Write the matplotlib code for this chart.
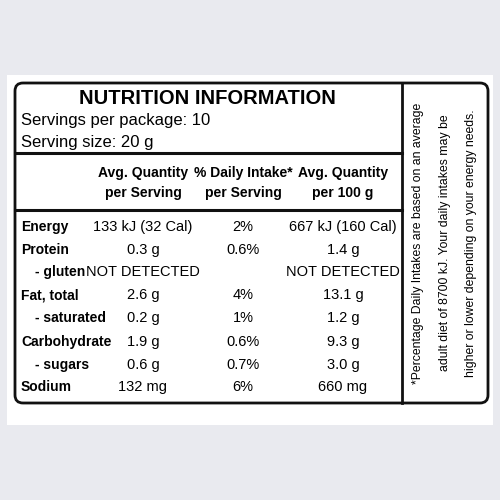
import matplotlib
matplotlib.use("Agg")
import matplotlib.pyplot as plt
from matplotlib.patches import FancyBboxPatch, Rectangle

title = "NUTRITION INFORMATION"
servings = "Servings per package: 10"
size = "Serving size: 20 g"
headers = ["Avg. Quantity\nper Serving", "% Daily Intake*\nper Serving", "Avg. Quantity\nper 100 g"]
nutrients = ["Energy", "Protein", "- gluten", "Fat, total", "- saturated", "Carbohydrate", "- sugars", "Sodium"]
per_serving = ["133 kJ (32 Cal)", "0.3 g", "NOT DETECTED", "2.6 g", "0.2 g", "1.9 g", "0.6 g", "132 mg"]
daily = ["2%", "0.6%", "", "4%", "1%", "0.6%", "0.7%", "6%"]
per_100 = ["667 kJ (160 Cal)", "1.4 g", "NOT DETECTED", "13.1 g", "1.2 g", "9.3 g", "3.0 g", "660 mg"]
footnote = ["*Percentage Daily Intakes are based on an average",
            "adult diet of 8700 kJ. Your daily intakes may be",
            "higher or lower depending on your energy needs."]

NAR = ["Liberation Sans", "DejaVu Sans"]
fig = plt.figure(figsize=(5, 5), dpi=100)
fig.patch.set_facecolor("#e9eaef")
ax = fig.add_axes([0, 0, 1, 1])
ax.set_xlim(0, 500); ax.set_ylim(500, 0); ax.axis("off")

ax.add_patch(Rectangle((7, 75), 486, 350, facecolor="white", edgecolor="none"))
ax.add_patch(FancyBboxPatch((15, 83), 473, 320, boxstyle="round,pad=0,rounding_size=8",
                            facecolor="white", edgecolor="#111", lw=2))
ax.plot([402, 402], [83, 403], color="#111", lw=2)
ax.plot([15, 402], [153, 153], color="#111", lw=2.2)
ax.plot([15, 402], [210, 210], color="#111", lw=2.2)

ax.text(207, 99, title, ha="center", va="center", fontsize=14.5, weight="heavy",
        family=NAR)
ax.text(21, 121, servings, ha="left", va="center", fontsize=12, family=NAR)
ax.text(21, 142, size, ha="left", va="center", fontsize=12, family=NAR)

cols = [143, 243, 343]
for x, h in zip(cols, headers):
    ax.text(x, 183, h, ha="center", va="center", fontsize=10, weight="bold", family=NAR, linespacing=1.5)

rows_y = [227, 250, 272, 295, 318, 342, 365, 387]
for y, n, a, d, b in zip(rows_y, nutrients, per_serving, daily, per_100):
    x0 = 35 if n.startswith("-") else 21
    ax.text(x0, y, n, ha="left", va="center", fontsize=10, weight="bold", family=NAR)
    ax.text(cols[0], y, a, ha="center", va="center", fontsize=10.5, family=NAR)
    ax.text(cols[1], y, d, ha="center", va="center", fontsize=10.5, family=NAR)
    ax.text(cols[2], y, b, ha="center", va="center", fontsize=10.5, family=NAR)

for x, t in zip([418, 445, 471], footnote):
    ax.text(x, 243, t, ha="center", va="center", rotation=90, fontsize=8.8, family=NAR)

fig.savefig("out.png", dpi=100, facecolor=fig.get_facecolor())
